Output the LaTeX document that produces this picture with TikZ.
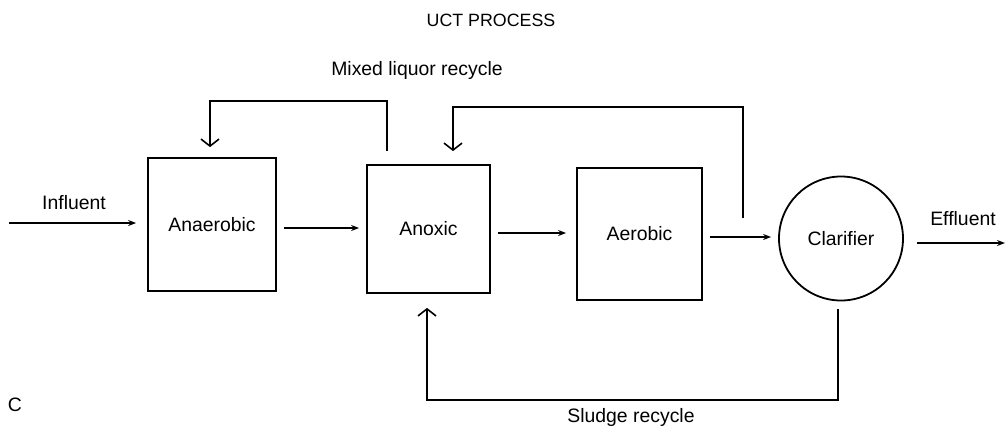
\documentclass[tikz,border=0pt]{standalone}
\usepackage{fontspec}
\setmainfont{Liberation Sans}
\usetikzlibrary{arrows.meta,calc}
\begin{document}
\begin{tikzpicture}[x=0.5pt,y=-0.5pt,
  every node/.style={font=\fontsize{9.7}{11}\selectfont},
  tank/.style={draw, line width=0.9pt, inner sep=0pt},
  flow/.style={line width=0.9pt, -{Stealth[length=4pt,width=3pt]}},
  recyc/.style={line width=0.8pt, -{Straight Barb[length=3.5pt,width=9pt]}},
  lbl/.style={inner sep=0pt}
]
\useasboundingbox (0,0) rectangle (1007,435);

% tanks
\node[tank, minimum width=64pt, minimum height=66.5pt] (anaer) at (212,224.5) {Anaerobic};
\node[tank, minimum width=61.5pt, minimum height=64pt] (anox) at (428.5,229) {Anoxic};
\node[tank, minimum width=62.5pt, minimum height=66pt] (aer) at (639.5,234) {Aerobic};
\node[tank, circle, minimum size=62pt] (clar) at (841,238.5) {Clarifier};

% helper coordinates
\coordinate (in) at (9,223);
\coordinate (out) at (1005,243);
\coordinate (mltop) at (300,101);
\coordinate (nrtop) at (600,107);
\coordinate (slbot) at (630,400);
\coordinate (split) at ($(aer.east)!0.5!(clar.west)$);

% main flow
\draw[flow, shorten >=5.5pt] (in) -- (in -| anaer.west);
\draw[flow, shorten <=3.5pt, shorten >=3.5pt] ($(anaer.east)+(0,3.5)$) -- ($(anaer.east -| anox.west)+(0,3.5)$);
\draw[flow, shorten <=3.5pt, shorten >=5pt] ($(anox.east)+(0,4)$) -- ($(anox.east -| aer.west)+(0,4)$);
\draw[flow, shorten <=3.5pt, shorten >=3.5pt] ($(aer.east)+(0,3)$) -- ($(aer.east -| clar.west)+(0,3)$);
\draw[flow, shorten <=6.5pt] (clar.east |- out) -- (out);

% recycles
\draw[recyc] ($(anox.north)+(-41.5,-13)$) |- (mltop) -| ($(anaer.north)+(-2,-10)$);
\draw[recyc] ($(split)+(2.5,-18)$) |- (nrtop) -| ($(anox.north)+(24.5,-13)$);
\draw[recyc] ($(clar.south)+(-3,8)$) |- (slbot) -| ($(anox.south)+(-1.5,14)$);

% labels
\node[lbl, font=\fontsize{8.9}{10}\selectfont] (title) at (491,20) {UCT PROCESS};
\node[lbl] (mlrlbl) at (417,70) {Mixed liquor recycle};
\node[lbl] (sllbl) at (631,417) {Sludge recycle};
\node[lbl] (inlbl) at (74,203) {Influent};
\node[lbl] (outlbl) at (963,219) {Effluent};
\node[lbl] (clbl) at (15,405) {C};
\end{tikzpicture}
\end{document}
